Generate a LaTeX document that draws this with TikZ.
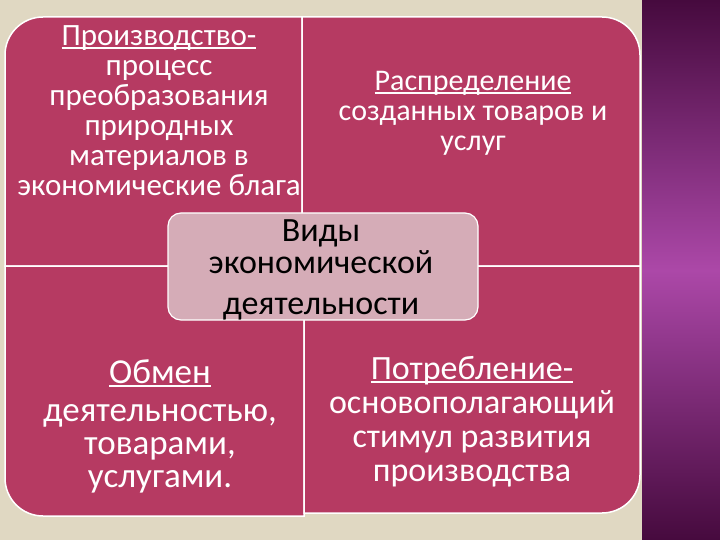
\documentclass[tikz,border=0pt]{standalone}
\usepackage{fontspec}
\setmainfont{Carlito}
\usetikzlibrary{positioning}

\newcommand{\ulword}[1]{\leavevmode\setbox0\hbox{#1}\rlap{\vrule height -2pt depth 3.6pt width \wd0}\box0}

\definecolor{quadfill}{RGB}{182,58,98}
\definecolor{hubfill}{RGB}{213,172,183}
\definecolor{paper}{RGB}{224,216,194}
\definecolor{plumdark}{RGB}{70,10,62}
\definecolor{plumlight}{RGB}{172,72,168}

\begin{document}
\begin{tikzpicture}[x=1pt, y=-1pt,
  quad/.style={fill=quadfill, draw=white, line width=1.5pt},
  quadtext/.style={text=white, align=center, inner sep=0pt, font=\fontsize{31}{30}\selectfont},
  hub/.style={fill=hubfill, draw=white, line width=1.2pt, rounded corners=13pt, minimum width=310pt, minimum height=107pt, inner sep=0pt},
  hubtext/.style={text=black, align=center, inner sep=0pt, font=\fontsize{34}{32}\selectfont}]
  \useasboundingbox (0,0) rectangle (720,540);
  \fill[paper] (0,0) rectangle (720,540);
  \shade[top color=plumdark, bottom color=plumlight] (642,0) rectangle (720,271);
  \shade[top color=plumlight, bottom color=plumdark] (642,270) rectangle (720,540);

  \draw[quad] (302,266) -- (5,266) -- (5,55) arc[start angle=180, end angle=270, radius=38] -- (302,17) -- cycle;
  \draw[quad] (302,17) -- (602,17) arc[start angle=270, end angle=360, radius=38] -- (640,266) -- (302,266) -- cycle;
  \draw[quad] (5,266) -- (304,266) -- (304,516) -- (43,516) arc[start angle=90, end angle=180, radius=38] -- cycle;
  \draw[quad] (304,266) -- (640,266) -- (640,475) arc[start angle=0, end angle=90, radius=38] -- (304,513) -- cycle;

  \node[quadtext, anchor=north] (prodtext) at (159,25)
    {\ulword{Производство-}\\процесс\\преобразования\\природных\\материалов в\\экономические блага};
  \node[quadtext, anchor=north, font=\fontsize{30}{30}\selectfont] (distrtext) at (473,71)
    {\ulword{Распределение}\\созданных товаров и\\услуг};
  \node[quadtext, anchor=north, font=\fontsize{35}{33}\selectfont] (exchtext) at (160,359)
    {\ulword{Обмен}\\[5pt]деятельностью,\\товарами,\\услугами.};
  \node[quadtext, anchor=north, font=\fontsize{34}{34}\selectfont] (constext) at (472,356)
    {\ulword{Потребление-}\\основополагающий\\стимул развития\\производства};

  \node[hub] (hub) at (323,266.5) {};
  \node[hubtext, anchor=north] (hubtext) at (321,219)
    {Виды\\экономической\\[9pt]деятельности};
\end{tikzpicture}
\end{document}
